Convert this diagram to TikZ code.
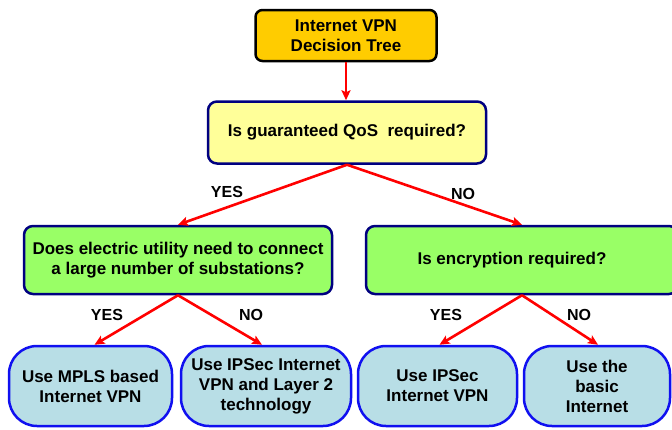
\documentclass[tikz,border=0pt]{standalone}
\usepackage{fontspec}
\setmainfont{Liberation Sans}
\usetikzlibrary{arrows.meta,shapes}
\definecolor{treeorange}{HTML}{FFCC00}
\definecolor{qosyellow}{HTML}{FFFF99}
\definecolor{askgreen}{HTML}{99FF66}
\definecolor{useblue}{HTML}{B8DEE6}
\definecolor{edgenavy}{HTML}{000080}
\definecolor{edgeblue}{HTML}{1010F0}
\tikzstyle{title}    = [rectangle, rounded corners=7pt, draw=black, line width=2.5pt, fill=treeorange, align=center, inner sep=2pt]
\tikzstyle{question} = [rectangle, rounded corners=9pt, draw=edgenavy, line width=2.5pt, align=center, inner sep=2pt]
\tikzstyle{outcome}  = [rectangle, rounded corners=28pt, draw=edgeblue, line width=2.5pt, fill=useblue, align=center, inner sep=2pt, minimum height=80pt]
\tikzstyle{arrow}    = [line width=2.6pt, draw=red, -{Stealth[length=10pt,width=9pt,inset=2pt]}]

\begin{document}
\begin{tikzpicture}[x=1pt, y=-1pt, font=\fontsize{17}{20}\selectfont\bfseries,
		answer/.style={font=\fontsize{16}{18}\selectfont\bfseries, inner sep=1pt}]

	\useasboundingbox (0,0) rectangle (672,429);
	\clip (0,0) rectangle (672,429);
	\fill[white] (0,0) rectangle (672,429);

	% title and first question
	\node[title, minimum width=181pt, minimum height=51pt] (tree) at (346,35.5) {Internet VPN\\Decision Tree};
	\node[question, fill=qosyellow, minimum width=278pt, minimum height=62pt] (qos) at (347,132.5) {Is guaranteed QoS~ required?};

	% second level
	\node[question, fill=askgreen, minimum width=308pt, minimum height=68pt] (subst) at (178,260) {Does electric utility need to connect\\a large number of substations?};
	\node[question, fill=askgreen, minimum width=312pt, minimum height=68pt] (encr) at (522,260) {Is encryption required?\hspace*{20pt}};

	% outcomes
	\node[outcome, minimum width=163pt] (mpls)  at (90.5,386) {Use MPLS based\\Internet VPN};
	\node[outcome, minimum width=170pt] (ipl2)  at (266,386)  {Use IPSec Internet\\VPN and Layer 2\\technology};
	\node[outcome, minimum width=159pt] (ipsec) at (437.5,386) {Use IPSec\\Internet VPN};
	\node[outcome, minimum width=146pt] (basic) at (597,386)  {Use the\\basic\\Internet};

	\draw[arrow] (tree.south) -- (tree.south |- qos.north);
	\draw[arrow] (qos.south) -- (subst.north);
	\draw[arrow] (qos.south) -- (encr.north);
	\draw[arrow] (subst.south) -- ([xshift=4pt]mpls.north);
	\draw[arrow] (subst.south) -- ([xshift=-4pt]ipl2.north);
	\draw[arrow] (encr.south) -- ([xshift=2pt]ipsec.north);
	\draw[arrow] (encr.south) -- ([xshift=1pt]basic.north);

	% yes / no labels
	\node[answer] (yesqos) at (227,192) {YES};
	\node[answer] (noqos)  at (463,194) {NO};
	\node[answer] (yessub) at (107,315) {YES};
	\node[answer] (nosub)  at (251,315) {NO};
	\node[answer] (yesenc) at (446,315) {YES};
	\node[answer] (noenc)  at (579,315) {NO};
\end{tikzpicture}
\end{document}
